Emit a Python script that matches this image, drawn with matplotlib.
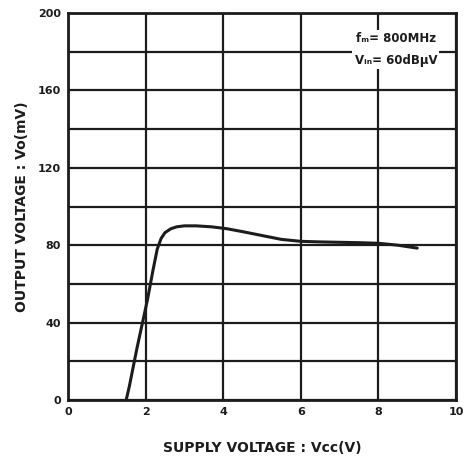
import matplotlib.pyplot as plt
from matplotlib.ticker import MultipleLocator

# output voltage vs supply voltage
vcc = [1.5, 1.58, 1.66, 1.78, 1.92, 2.05, 2.18, 2.3, 2.4, 2.5, 2.65, 2.8,
       3.0, 3.3, 3.7, 4.1, 4.5, 5.0, 5.5, 6.0, 6.5, 7.0, 7.5, 8.0, 8.5, 9.0]
vo = [0, 7, 15, 27, 40, 52, 66, 78, 83.5, 86.5, 88.5, 89.5,
      90, 90, 89.5, 88.5, 87, 85, 83, 82, 81.7, 81.5, 81.3, 81, 80, 78.5]

x_ticks = [0, 2, 4, 6, 8, 10]
y_ticks = [0, 40, 80, 120, 160, 200]

plt.rcParams['font.family'] = 'DejaVu Sans'
plt.rcParams['font.weight'] = 'bold'

fig = plt.figure(figsize=(4.65, 4.67), dpi=100)
ax = fig.add_axes([68 / 465, 1 - 400 / 467, 388 / 465, 387 / 467])

ink = '#1c1c1c'
ax.plot(vcc, vo, color=ink, lw=2.2, solid_capstyle='round',
        solid_joinstyle='round', zorder=3)

ax.set_xlim(0, 10)
ax.set_ylim(0, 200)
ax.set_xticks(x_ticks)
ax.set_yticks(y_ticks)
ax.yaxis.set_minor_locator(MultipleLocator(20))
ax.grid(True, which='major', color=ink, lw=1.6)
ax.grid(True, which='minor', axis='y', color=ink, lw=1.6)
ax.tick_params(which='both', length=0, labelsize=8, colors=ink, pad=5)
for s in ax.spines.values():
    s.set_color(ink)
    s.set_linewidth(2)

ax.set_xlabel('SUPPLY VOLTAGE : Vcc(V)', fontsize=10, fontweight='bold',
              color=ink, labelpad=17)
ax.set_ylabel('OUTPUT VOLTAGE : Vo(mV)', fontsize=10, fontweight='bold',
              color=ink, labelpad=6)

ax.text(8.45, 181, 'fₘ= 800MHz\nVᵢₙ= 60dBμV', fontsize=8.5, fontweight='bold',
        color=ink, ha='center', va='center', linespacing=1.9,
        bbox=dict(facecolor='white', edgecolor='none', pad=1.5), zorder=4)

fig.savefig('out.png', dpi=100)
